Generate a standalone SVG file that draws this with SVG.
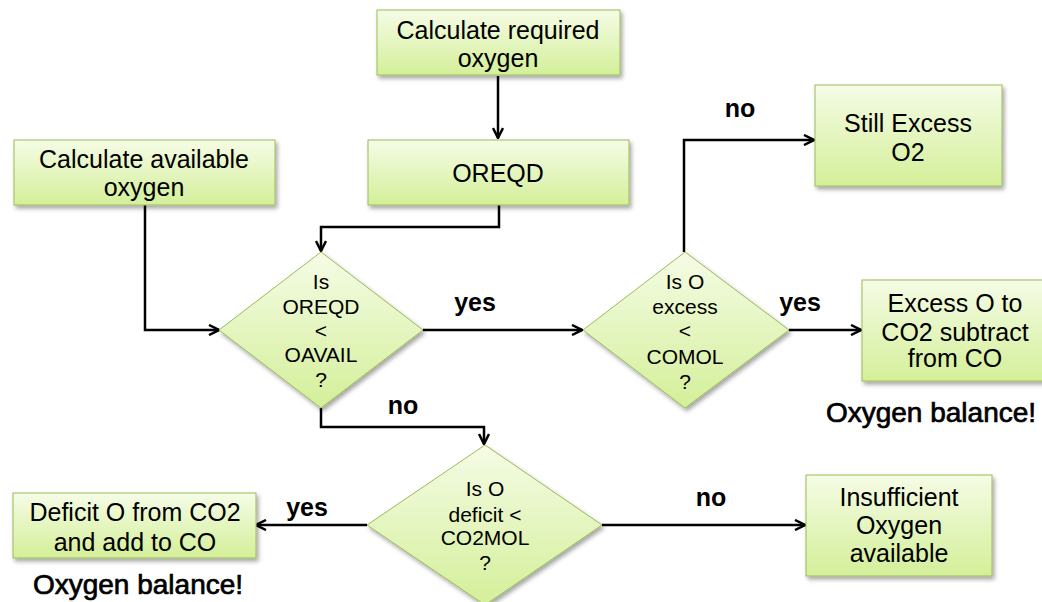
<svg xmlns="http://www.w3.org/2000/svg" width="1042" height="602" viewBox="0 0 1042 602">
<defs>
<linearGradient id="g" x1="0" y1="0" x2="0" y2="1">
<stop offset="0" stop-color="#f5fce6"/>
<stop offset="1" stop-color="#d4ef99"/>
</linearGradient>
<filter id="sh" x="-10%" y="-10%" width="130%" height="140%">
<feDropShadow dx="2" dy="3" stdDeviation="2" flood-color="#000" flood-opacity="0.35"/>
</filter>
<marker id="ar" viewBox="0 0 12 12" refX="11" refY="6" markerWidth="12" markerHeight="12" markerUnits="userSpaceOnUse" orient="auto">
<path d="M1,1 L11,6 L1,11" fill="none" stroke="#000" stroke-width="2.5"/>
</marker>
</defs>
<style>
.box{fill:url(#g);stroke:#9bbb59;stroke-width:1;filter:url(#sh)}
.t{font-family:"Liberation Sans",Arial,sans-serif;font-size:25px;fill:#000;text-anchor:middle}
.d{font-family:"Liberation Sans",Arial,sans-serif;font-size:21px;fill:#000;text-anchor:middle}
.lbl{font-family:"Liberation Sans",Arial,sans-serif;font-size:25px;font-weight:bold;fill:#000;text-anchor:middle}
.ob{font-family:"Liberation Sans",Arial,sans-serif;font-size:28px;fill:#000;stroke:#000;stroke-width:0.7;text-anchor:middle}
.c{fill:none;stroke:#000;stroke-width:2.5;marker-end:url(#ar)}
</style>
<rect width="1042" height="602" fill="#fff"/>
<g id="connectors">
<path class="c" d="M498,76 V138"/>
<path class="c" d="M499,205 V227 H321 V251"/>
<path class="c" d="M145,205 V330 H219"/>
<path class="c" d="M423,330 H582"/>
<path class="c" d="M321,408 V427 H484 V444"/>
<path class="c" d="M684,252 V140 H814"/>
<path class="c" d="M789,330 H861"/>
<path class="c" d="M367,525 H256"/>
<path class="c" d="M602,525 H805"/>
<text class="lbl" x="475" y="311">yes</text>
<text class="lbl" x="403" y="414">no</text>
<text class="lbl" x="740" y="117">no</text>
<text class="lbl" x="800" y="311">yes</text>
<text class="lbl" x="307" y="516">yes</text>
<text class="lbl" x="711" y="506">no</text>
</g>
<g id="calc-required">
<rect class="box" x="377" y="10" width="243" height="65"/>
<text class="t" x="498" y="39">Calculate required</text>
<text class="t" x="498" y="67">oxygen</text>
</g>
<g id="oreqd">
<rect class="box" x="368" y="140" width="261" height="65"/>
<text class="t" x="498" y="182">OREQD</text>
</g>
<g id="calc-available">
<rect class="box" x="14" y="140" width="261" height="65"/>
<text class="t" x="144" y="168">Calculate available</text>
<text class="t" x="144" y="196">oxygen</text>
</g>
<g id="dec1">
<polygon class="box" points="321,252 423,330 321,408 219,330"/>
<text class="d" x="321" y="289">Is</text>
<text class="d" x="321" y="314">OREQD</text>
<text class="d" x="321" y="338">&lt;</text>
<text class="d" x="321" y="362">OAVAIL</text>
<text class="d" x="321" y="387">?</text>
</g>
<g id="dec2">
<polygon class="box" points="685,252 789,330 685,408 583,330"/>
<text class="d" x="685" y="289">Is O</text>
<text class="d" x="685" y="314">excess</text>
<text class="d" x="685" y="338">&lt;</text>
<text class="d" x="685" y="364">COMOL</text>
<text class="d" x="685" y="389">?</text>
</g>
<g id="dec3">
<polygon class="box" points="485,445 602,525 485,605 367,525"/>
<text class="d" x="485" y="496">Is O</text>
<text class="d" x="485" y="522">deficit &lt;</text>
<text class="d" x="485" y="545">CO2MOL</text>
<text class="d" x="485" y="570">?</text>
</g>
<g id="still-excess">
<rect class="box" x="815" y="85" width="187" height="101"/>
<text class="t" x="908" y="132">Still Excess</text>
<text class="t" x="908" y="161">O2</text>
</g>
<g id="excess-o">
<rect class="box" x="862" y="280" width="186" height="101"/>
<text class="t" x="955" y="312">Excess O to</text>
<text class="t" x="955" y="341">CO2 subtract</text>
<text class="t" x="955" y="367">from CO</text>
</g>
<text class="ob" x="931" y="422">Oxygen balance!</text>
<g id="insufficient">
<rect class="box" x="806" y="475" width="186" height="101"/>
<text class="t" x="899" y="506">Insufficient</text>
<text class="t" x="899" y="534">Oxygen</text>
<text class="t" x="899" y="562">available</text>
</g>
<g id="deficit">
<rect class="box" x="13" y="493" width="243" height="65"/>
<text class="t" x="135" y="521">Deficit O from CO2</text>
<text class="t" x="135" y="551">and add to CO</text>
</g>
<text class="ob" x="138" y="594">Oxygen balance!</text>
</svg>
